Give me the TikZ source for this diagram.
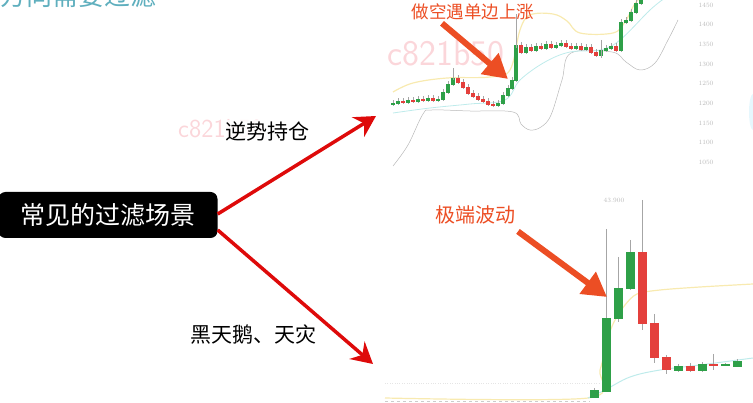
\documentclass[tikz,border=0pt]{standalone}
\usepackage{fontspec}
\newfontfamily\cjk{Noto Sans CJK SC}
\usetikzlibrary{arrows.meta,calc,positioning}
\definecolor{hlorange}{RGB}{236,78,36}
\definecolor{upgreen}{RGB}{46,160,72}
\definecolor{dnred}{RGB}{228,64,60}
\definecolor{wmpink}{RGB}{251,214,218}
\definecolor{tealtxt}{RGB}{95,175,190}
\definecolor{arrred}{RGB}{222,10,10}
\definecolor{bandyel}{RGB}{248,234,176}
\definecolor{bandcyan}{RGB}{190,235,235}

\begin{document}
\begin{tikzpicture}[x=1pt,y=-1pt,
    lbl/.style={text=black, font=\cjk\fontsize{21}{21}\selectfont, inner sep=1pt},
    hl/.style={text=hlorange, font=\cjk\fontsize{18}{18}\selectfont, inner sep=2pt},
    mainarrow/.style={draw=arrred, line width=3.5pt, -{Stealth[length=21pt,width=23pt,inset=7pt]}},
    hlarrow/.style={draw=hlorange, line width=6pt, -{Triangle[length=24pt,width=26pt]}},
    wick/.style={draw=gray!70, line width=0.6pt},
    axlbl/.style={text=gray!55, font=\fontsize{6.5}{6.5}\selectfont, inner sep=0pt}]

    \useasboundingbox (0,0) rectangle (753,403);
    \clip (0,0) rectangle (753,403);

    \node[text=tealtxt, font=\cjk\fontsize{26}{26}\selectfont, anchor=base west, inner sep=0pt] (dir) at (0,6) {方向需要过滤};

    % watermarks
    \node[text=wmpink, font=\sffamily\fontsize{36}{36}\selectfont, anchor=base west, inner sep=0pt] (wmtop) at (387,66) {c821b50};
    \node[text=wmpink, font=\sffamily\fontsize{26}{26}\selectfont, anchor=base west, inner sep=0pt] (wmmid) at (178,138) {c821b50};

    % upper chart: bands
    \draw[gray!55, line width=0.5pt] plot[smooth, tension=0.6] coordinates {(393,166) (408,145) (423,114) (432,110) (470,111) (513,112) (521,124) (530,130) (541,127) (551,115) (562,80) (571,53) (612,52) (626,62) (640,70) (655,63) (668,40) (678,20)};
    \draw[bandyel, line width=1.2pt] plot[smooth, tension=0.6] coordinates {(393,92) (413,83) (447,78) (490,77) (510,70) (520,30) (530,15) (553,14) (567,21) (580,33) (613,33) (625,22) (634,5) (640,-2)};
    \draw[bandcyan, line width=0.8pt] plot[smooth, tension=0.6] coordinates {(393,113) (430,108) (470,104) (505,100) (520,80) (545,62) (570,52) (600,50) (620,40) (650,10) (665,-2)};

    % upper chart: candles
    \foreach \x/\c [remember=\c as \o (initially 104)] in {393/103, 398/101, 403/102, 408/100, 413/101, 418/99, 423/100, 428/98, 433/100, 438/99,
        443/92, 448/84, 453/78, 458/82, 463/87, 468/93, 473/96, 478/99, 483/101, 488/104, 493/105,
        498/103, 503/95, 508/88, 512/80, 516/45, 521/52, 526/47, 531/50, 536/46, 541/48, 546/44, 551/47, 556/45,
        561/43, 566/46, 571/48, 576/46, 581/49, 586/47, 591/52, 596/55, 601/50, 606/48, 611/46, 616/50,
        621/22, 626/20, 631/12, 636/3, 641/-5, 646/-12} {
      \ifdim \c pt<\o pt \def\col{upgreen}\else\def\col{dnred}\fi
      \draw[wick] (\x,{min(\o,\c)-2.5}) -- (\x,{max(\o,\c)+2.5});
      \filldraw[\col, line width=0.3pt] (\x-1.5,\o) rectangle (\x+1.5,\c);
    }
    \draw[wick] (453,68) -- (453,80);
    \draw[wick] (516,14) -- (516,48);
    \draw[wick] (601,40) -- (601,58);

    \foreach \v [count=\i from 0] in {1450,1400,1350,1300,1250,1200,1150,1100,1050}
      \node[axlbl] (ax\i) at (706,{5+19.7*\i}) {\v};

    \fill[cyan!10] (753,112) ellipse (4 and 18);

    % lower chart
    \draw[gray!40, dashed, line width=0.6pt] (385,401) -- (590,401);
    \draw[gray!20, dotted] (385,383) -- (600,383);
    \draw[bandyel, line width=1.2pt] plot[smooth, tension=0.5] coordinates {(385,398) (588,398) (600,370) (608,338) (614,322) (625,305) (637,294) (660,290) (700,287) (753,284)};
    \draw[bandcyan, line width=1pt] plot[smooth, tension=0.6] coordinates {(588,398) (605,390) (630,377) (660,370) (700,365) (753,358)};

    \foreach \x/\t/\b/\h/\l/\col in {594/390/397/388/398/upgreen, 606/318/391/229/392/upgreen,
        618/288/318/257/322/upgreen, 630/252/288/240/290/upgreen, 642/252/323/200/330/dnred,
        654/323/357/314/363/dnred, 666/357/369/355/374/dnred, 678/366/370/364/372/upgreen,
        690/366/370/363/372/dnred, 702/364/370/362/372/upgreen, 713/364/365/354/370/dnred,
        725/364/365/363/366/upgreen, 737/361/366/359/367/upgreen} {
      \draw[wick] (\x,\h) -- (\x,\l);
      \filldraw[\col, line width=0.3pt] (\x-4,\t) rectangle (\x+4,\b);
    }
    \node[axlbl] (peak) at (614,200) {43.900};

    % highlight labels and arrows
    \node[hl, font=\cjk\fontsize{17.5}{17.5}\selectfont] (shortup) at (473,12) {做空遇单边上涨};
    \node[hl, font=\cjk\fontsize{20}{20}\selectfont] (extreme) at (475,215) {极端波动};
    \coordinate (tipa) at (508,79);
    \coordinate (tipb) at (607,297);
    \draw[hlarrow] ([xshift=-31pt,yshift=-1pt]shortup.south) -- (tipa);
    \draw[hlarrow] ([xshift=43pt,yshift=-5pt]extreme.south) -- (tipb);

    % main node and branches
    \node[fill=black, text=white, rounded corners=7pt, minimum width=219pt, minimum height=46pt, inner sep=0pt,
      font=\cjk\fontsize{25}{25}\selectfont] (scene) at (108,215) {常见的过滤场景};

    \node[lbl, fill=white, fill opacity=0.85, text opacity=1] (hold) at (267,131) {逆势持仓};
    \node[lbl] (swan) at (253,334) {黑天鹅、天灾};

    \coordinate (topchart) at (376,116);
    \coordinate (botchart) at (373,364);
    \draw[mainarrow] ([yshift=1pt]scene.east) -- (topchart);
    \draw[mainarrow] ([yshift=-15pt]scene.east) -- (botchart);

\end{tikzpicture}
\end{document}
